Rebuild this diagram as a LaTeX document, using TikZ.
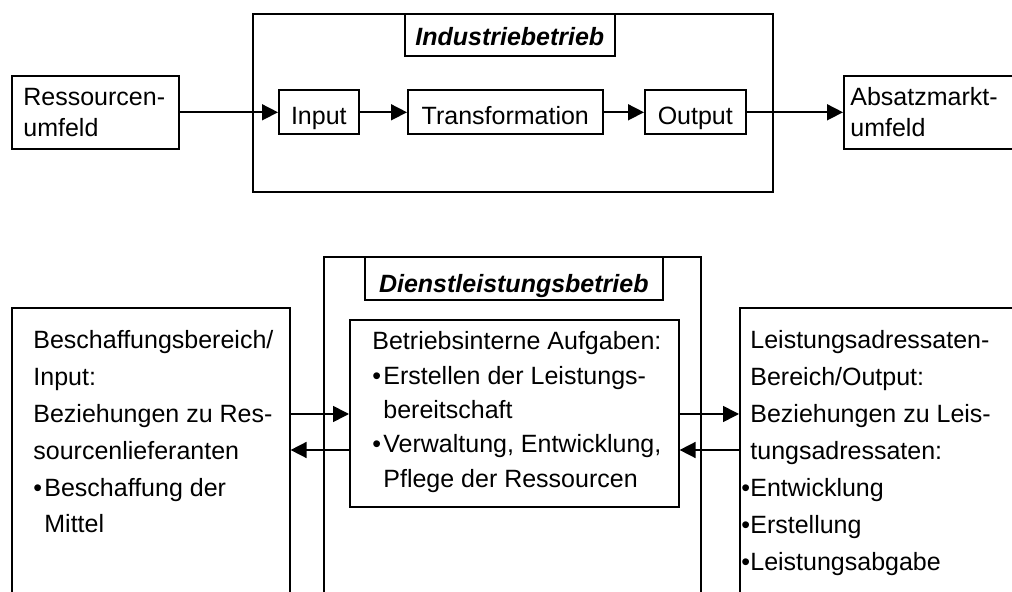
\documentclass[tikz,border=0pt]{standalone}
\usepackage{fontspec}
\setmainfont{Liberation Sans}
\usetikzlibrary{arrows.meta}
\newcommand{\blt}{\makebox[5.5pt][l]{•}}
\newcommand{\hng}{\llap{\makebox[4.5pt][l]{•}}}
\begin{document}
\begin{tikzpicture}[x=0.5pt,y=-0.5pt,
  box/.style={draw, line width=0.8pt, anchor=north west, inner sep=0pt, align=center},
  % text blocks are placed by the baseline of their last line
  txt/.style={anchor=base west, inner sep=0pt, align=left},
  arr/.style={-{Triangle[length=8pt,width=8pt]}, line width=0.8pt},
  title/.style={font=\fontsize{12.5pt}{15pt}\selectfont\bfseries\itshape, text depth=0pt},
  stage/.style={text height=12.5pt, text depth=0pt},
  font=\fontsize{12.5pt}{15.5pt}\selectfont]
\useasboundingbox (0,0) rectangle (1012,592);
\clip (0,0) rectangle (1012,592);

% ---- industrial firm ----
\node[box, minimum width=260pt, minimum height=89pt] (ind) at (252,13) {};
\node[box, title, text height=11pt, minimum width=105pt, minimum height=21pt] (indtitle) at (404,13) {Industriebetrieb};
\node[box, minimum width=83.5pt, minimum height=36.5pt] (res) at (11,75) {};
\node[txt] (restxt) at (23,137) {Ressourcen-\\umfeld};
\node[box, stage, minimum width=40pt, minimum height=22pt] (inp) at (278,89.5) {Input};
\node[box, stage, minimum width=97.5pt, minimum height=22pt] (trans) at (407,89.5) {Transformation};
\node[box, stage, minimum width=50.5pt, minimum height=22pt] (outp) at (644,89.5) {Output};
\node[box, minimum width=100pt, minimum height=36.5pt] (abs) at (843,75) {};
\node[txt] (abstxt) at (850,137) {Absatzmarkt-\\umfeld};

\draw[arr] (res.east) -- (inp.west);
\draw[arr] (inp.east) -- (trans.west);
\draw[arr] (trans.east) -- (outp.west);
\draw[arr] (outp.east) -- (abs.west);

% ---- service firm ----
\node[box, minimum width=139pt, minimum height=160pt] (src) at (11,307) {};
\node[box, minimum width=188.5pt, minimum height=190pt] (dl) at (323,256) {};
\node[box, title, text height=14.2pt, minimum width=149pt, minimum height=21.5pt] (dltitle) at (364,256) {Dienstleistungsbetrieb};
\node[box, minimum width=164.5pt, minimum height=93.5pt] (tasks) at (349,319) {};
\node[box, minimum width=150pt, minimum height=160pt] (dst) at (739,307) {};

\node[txt, font=\fontsize{12.5pt}{18.4pt}\selectfont] (srctxt) at (33,533)
  {Beschaffungsbereich/\\Input:\\Beziehungen zu Res-\\sourcenlieferanten\\\blt Beschaffung der\\\hspace*{5.5pt}Mittel};
\node[txt, font=\fontsize{12.5pt}{17.15pt}\selectfont] (taskstxt) at (372,487.2)
  {Betriebsinterne Aufgaben:\\\blt Erstellen der Leistungs-\\\hspace*{5.5pt}bereitschaft\\\blt Verwaltung, Entwicklung,\\\hspace*{5.5pt}Pflege der Ressourcen};
\node[txt, font=\fontsize{12.5pt}{18.5pt}\selectfont] (dsttxt) at (750,571)
  {Leistungsadressaten-\\Bereich/Output:\\Beziehungen zu Leis-\\tungsadressaten:\\\hng Entwicklung\\\hng Erstellung\\\hng Leistungsabgabe};

\coordinate (yfwd) at (0,414);
\coordinate (yback) at (0,450);
\draw[arr] (src.east |- yfwd) -- (tasks.west |- yfwd);
\draw[arr] (tasks.west |- yback) -- (src.east |- yback);
\draw[arr] (tasks.east |- yfwd) -- (dst.west |- yfwd);
\draw[arr] (dst.west |- yback) -- (tasks.east |- yback);
\end{tikzpicture}
\end{document}
